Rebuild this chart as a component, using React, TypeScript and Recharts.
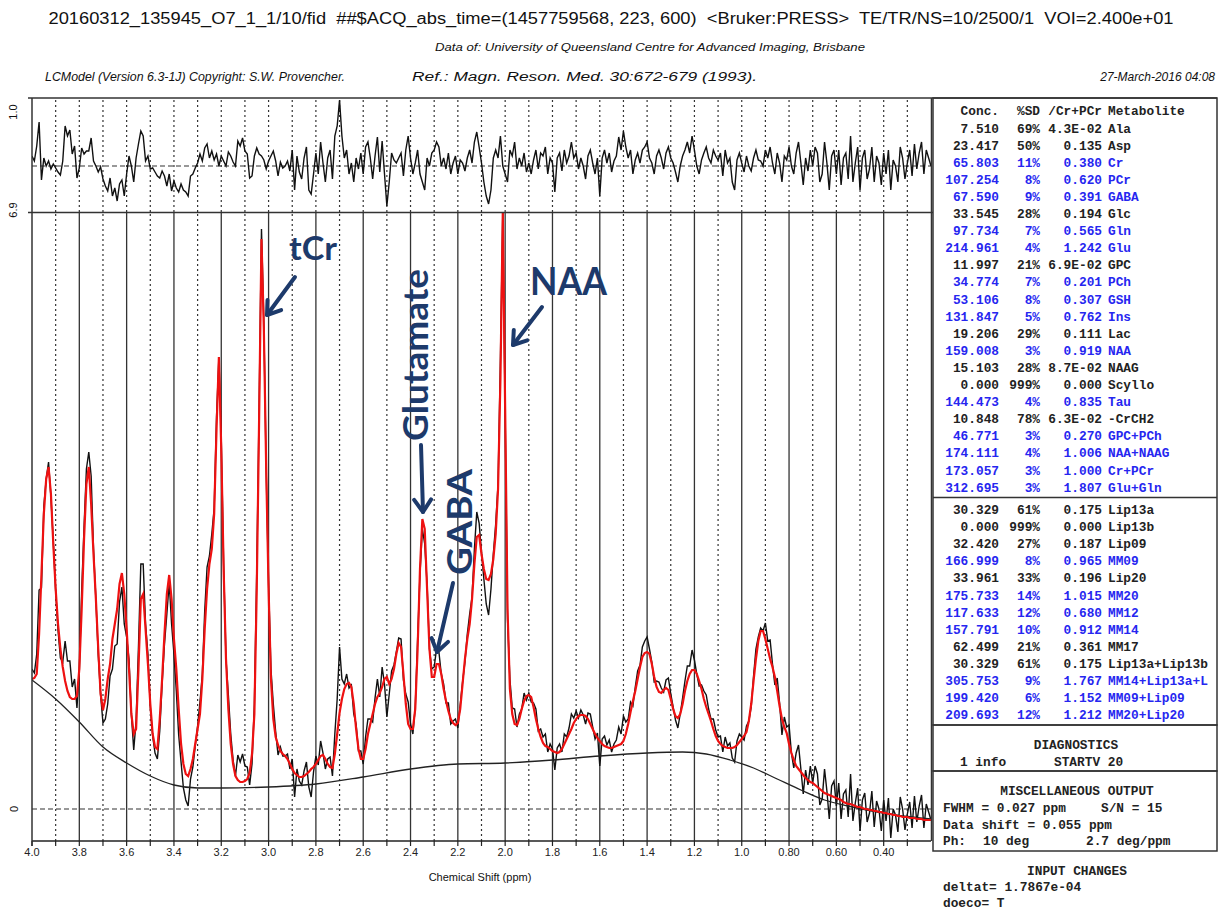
import React from 'react';
import { ComposedChart, Line, XAxis, YAxis, ReferenceLine } from 'recharts';

// spectrum sampled every 0.01 ppm, from 4.00 down to 0.20 ppm
const PPM_START = 4.0;
const PPM_STEP = 0.01;

// LCModel fit (red), one row per 0.01 ppm
const fitValues = [
  1.30, 1.31, 1.35, 1.75, 2.35, 2.95, 3.30, 3.42, 3.15, 2.65, // 4.00-3.91
  2.20, 1.85, 1.60, 1.42, 1.28, 1.18, 1.12, 1.10, 1.10, 1.13, // 3.90-3.81
  1.40, 2.00, 2.70, 3.25, 3.42, 3.05, 2.55, 2.10, 1.60, 1.15, // 3.80-3.71
  0.99, 1.10, 1.30, 1.45, 1.70, 1.85, 2.00, 2.25, 2.36, 2.15, // 3.70-3.61
  1.80, 1.40, 0.95, 0.75, 0.80, 1.40, 2.10, 2.15, 1.80, 1.45, // 3.60-3.51
  1.05, 0.75, 0.62, 0.60, 0.90, 1.30, 1.75, 2.15, 2.34, 2.10, // 3.50-3.41
  1.70, 1.40, 1.00, 0.65, 0.45, 0.35, 0.33, 0.40, 0.50, 0.65, // 3.40-3.31
  0.80, 0.95, 1.30, 1.80, 2.20, 2.45, 2.60, 2.95, 3.80, 4.52, // 3.30-3.21
  3.60, 2.40, 1.50, 1.00, 0.65, 0.45, 0.33, 0.29, 0.27, 0.27, // 3.20-3.11
  0.28, 0.30, 0.36, 0.55, 0.95, 2.20, 3.90, 5.70, 4.80, 3.40, // 3.10-3.01
  2.20, 1.30, 0.90, 0.72, 0.64, 0.58, 0.55, 0.53, 0.50, 0.45, // 3.00-2.91
  0.40, 0.36, 0.34, 0.32, 0.32, 0.33, 0.35, 0.37, 0.40, 0.42, // 2.90-2.81
  0.45, 0.49, 0.53, 0.54, 0.50, 0.45, 0.42, 0.41, 0.55, 0.75, // 2.80-2.71
  0.96, 1.10, 1.20, 1.25, 1.26, 1.22, 1.05, 0.80, 0.60, 0.50, // 2.70-2.61
  0.50, 0.60, 0.75, 0.85, 0.95, 1.05, 1.12, 1.16, 1.22, 1.30, // 2.60-2.51
  1.32, 1.25, 1.30, 1.40, 1.55, 1.66, 1.62, 1.35, 1.05, 0.85, // 2.50-2.41
  0.80, 0.80, 1.00, 1.60, 2.40, 2.90, 2.80, 2.20, 1.60, 1.32, // 2.40-2.31
  1.32, 1.45, 1.45, 1.35, 1.20, 1.08, 0.98, 0.90, 0.86, 0.84, // 2.30-2.21
  0.86, 1.00, 1.25, 1.50, 1.70, 1.85, 2.10, 2.45, 2.72, 2.74, // 2.20-2.11
  2.55, 2.40, 2.30, 2.29, 2.35, 2.50, 2.75, 3.20, 4.30, 5.96, // 2.10-2.01
  4.00, 2.00, 1.20, 0.95, 0.85, 0.84, 0.90, 1.00, 1.08, 1.13, // 2.00-1.91
  1.14, 1.12, 1.02, 0.90, 0.80, 0.72, 0.66, 0.63, 0.62, 0.60, // 1.90-1.81
  0.58, 0.57, 0.56, 0.57, 0.60, 0.65, 0.70, 0.75, 0.80, 0.86, // 1.80-1.71
  0.90, 0.93, 0.94, 0.94, 0.93, 0.90, 0.85, 0.80, 0.75, 0.71, // 1.70-1.61
  0.68, 0.65, 0.63, 0.62, 0.61, 0.61, 0.62, 0.63, 0.64, 0.65, // 1.60-1.51
  0.68, 0.75, 0.85, 0.97, 1.08, 1.18, 1.30, 1.42, 1.52, 1.56, // 1.50-1.41
  1.57, 1.55, 1.45, 1.32, 1.22, 1.17, 1.16, 1.19, 1.21, 1.19, // 1.40-1.31
  1.10, 1.00, 0.93, 0.91, 0.95, 1.05, 1.18, 1.28, 1.35, 1.39, // 1.30-1.21
  1.39, 1.35, 1.28, 1.20, 1.10, 1.02, 0.95, 0.88, 0.80, 0.73, // 1.20-1.11
  0.68, 0.65, 0.63, 0.62, 0.61, 0.61, 0.61, 0.62, 0.64, 0.67, // 1.10-1.01
  0.70, 0.73, 0.77, 0.88, 1.05, 1.28, 1.50, 1.68, 1.78, 1.78, // 1.00-0.91
  1.70, 1.60, 1.50, 1.42, 1.32, 1.18, 1.03, 0.90, 0.82, 0.76, // 0.90-0.81
  0.65, 0.56, 0.49, 0.43, 0.40, 0.37, 0.34, 0.31, 0.29, 0.27, // 0.80-0.71
  0.26, 0.24, 0.22, 0.20, 0.18, 0.16, 0.15, 0.14, 0.13, 0.12, // 0.70-0.61
  0.11, 0.10, 0.09, 0.07, 0.06, 0.05, 0.05, 0.04, 0.03, 0.02, // 0.60-0.51
  0.02, 0.01, 0.00, 0.00, -0.01, -0.01, -0.02, -0.02, -0.03, -0.03, // 0.50-0.41
  -0.04, -0.04, -0.05, -0.05, -0.06, -0.06, -0.07, -0.07, -0.08, -0.08, // 0.40-0.31
  -0.08, -0.09, -0.09, -0.09, -0.10, -0.10, -0.10, -0.11, -0.11, -0.11, // 0.30-0.21
  -0.11, // 0.20
];

// measured spectrum (black)
const dataValues = [
  1.40, 1.36, 1.55, 2.19, 2.21, 3.03, 3.30, 3.47, 3.12, 2.67,
  2.18, 1.79, 1.51, 1.47, 1.68, 1.48, 1.48, 1.22, 1.30, 1.01,
  1.38, 2.18, 2.82, 3.40, 3.57, 3.33, 2.60, 2.10, 1.54, 1.14,
  0.86, 0.90, 1.05, 1.33, 1.40, 1.63, 1.65, 2.07, 2.22, 1.85,
  1.72, 1.50, 0.95, 0.59, 0.88, 1.62, 2.45, 2.45, 1.85, 1.55,
  1.02, 0.73, 0.56, 0.50, 0.78, 1.25, 1.65, 1.95, 2.26, 1.85,
  1.55, 1.18, 0.74, 0.47, 0.21, 0.09, 0.03, 0.30, 0.42, 0.63,
  0.83, 1.07, 1.35, 1.98, 2.42, 2.53, 2.75, 3.01, 3.92, 4.52,
  3.70, 2.45, 1.50, 1.14, 0.75, 0.49, 0.33, 0.54, 0.47, 0.55,
  0.43, 0.42, 0.24, 0.45, 1.05, 2.38, 4.02, 5.80, 4.86, 3.37,
  2.25, 1.40, 1.05, 0.77, 0.54, 0.62, 0.53, 0.53, 0.55, 0.40,
  0.50, 0.12, 0.40, 0.28, 0.24, 0.38, 0.47, 0.22, 0.12, 0.37,
  0.53, 0.44, 0.68, 0.56, 0.40, 0.50, 0.52, 0.33, 0.75, 1.10,
  1.62, 1.30, 1.25, 1.35, 1.21, 1.24, 0.95, 0.85, 0.58, 0.58,
  0.45, 0.72, 0.90, 0.90, 0.87, 1.11, 1.30, 1.12, 1.42, 1.25,
  0.92, 1.15, 1.38, 1.44, 1.57, 1.71, 1.70, 1.29, 1.15, 1.07,
  0.85, 0.75, 1.02, 1.70, 2.35, 2.80, 2.65, 2.25, 1.60, 1.40,
  1.42, 1.60, 1.57, 1.35, 1.25, 1.06, 1.06, 0.85, 0.88, 0.90,
  0.81, 1.04, 1.27, 1.47, 1.75, 1.95, 2.12, 2.60, 2.97, 2.86,
  2.57, 2.30, 2.05, 1.94, 2.20, 2.55, 2.85, 3.25, 4.50, 5.96,
  3.95, 1.90, 1.30, 1.01, 1.00, 0.82, 0.95, 1.00, 1.16, 1.09,
  1.16, 1.07, 1.06, 1.00, 0.78, 0.80, 0.72, 0.75, 0.57, 0.65,
  0.60, 0.39, 0.61, 0.65, 0.57, 0.75, 0.72, 0.81, 0.95, 0.91,
  0.98, 0.91, 0.99, 0.94, 0.85, 0.96, 0.95, 0.82, 0.70, 0.76,
  0.43, 0.70, 0.73, 0.64, 0.69, 0.57, 0.65, 0.69, 0.82, 0.75,
  0.93, 0.87, 0.90, 1.07, 1.03, 1.22, 1.38, 1.44, 1.62, 1.68,
  1.72, 1.60, 1.47, 1.27, 1.28, 1.27, 1.21, 1.17, 1.29, 1.31,
  1.15, 1.02, 0.89, 0.81, 0.95, 1.11, 1.28, 1.43, 1.43, 1.59,
  1.49, 1.35, 1.23, 1.24, 1.18, 1.14, 1.00, 0.90, 0.90, 0.79,
  0.72, 0.73, 0.57, 0.72, 0.63, 0.66, 0.51, 0.47, 0.68, 0.75,
  0.72, 0.69, 0.83, 0.88, 1.02, 1.33, 1.60, 1.72, 1.81, 1.78,
  1.86, 1.68, 1.69, 1.45, 1.24, 1.31, 1.06, 0.74, 0.92, 0.82,
  0.84, 0.56, 0.41, 0.56, 0.64, 0.40, 0.15, 0.39, 0.24, 0.43,
  0.26, 0.43, 0.35, 0.04, 0.10, 0.40, 0.18, -0.10, 0.23, 0.28,
  0.03, 0.26, -0.10, 0.15, 0.19, -0.08, 0.35, -0.12, 0.06, 0.21,
  -0.22, 0.09, 0.16, -0.13, -0.04, 0.18, -0.18, 0.08, 0.00, -0.22,
  0.09, -0.12, 0.11, -0.29, 0.00, -0.06, -0.23, 0.12, 0.00, -0.21,
  -0.05, 0.07, -0.19, 0.13, -0.13, 0.03, 0.14, -0.19, 0.05, -0.03,
  -0.11,
];

// residual panel on top (data - fit)
const residualValues = [
  0.10, 0.05, 0.20, 0.44, -0.14, 0.08, 0.00, 0.05, -0.03, 0.02,
  -0.02, -0.06, -0.09, 0.05, 0.40, 0.30, 0.36, 0.12, 0.20, -0.12,
  -0.02, 0.18, 0.12, 0.15, 0.15, 0.28, 0.05, 0.00, -0.06, -0.01,
  -0.13, -0.20, -0.25, -0.12, -0.30, -0.22, -0.35, -0.18, -0.14, -0.30,
  -0.08, 0.10, 0.00, -0.16, 0.08, 0.22, 0.35, 0.30, 0.05, 0.10,
  -0.03, -0.02, -0.06, -0.10, -0.12, -0.05, -0.10, -0.20, -0.08, -0.25,
  -0.15, -0.22, -0.26, -0.18, -0.24, -0.26, -0.30, -0.10, -0.08, -0.02,
  0.03, 0.12, 0.05, 0.18, 0.22, 0.08, 0.15, 0.06, 0.12, 0.00,
  0.10, 0.05, 0.00, 0.14, 0.10, 0.04, 0.00, 0.25, 0.20, 0.28,
  0.15, 0.12, -0.12, -0.10, 0.10, 0.18, 0.12, 0.10, 0.06, -0.03,
  0.05, 0.10, 0.15, 0.05, -0.10, 0.04, -0.02, 0.00, 0.05, -0.05,
  0.16, -0.24, 0.10, -0.06, -0.13, 0.08, 0.19, -0.24, -0.28, -0.08,
  0.13, -0.08, 0.24, 0.03, -0.16, 0.08, 0.16, -0.13, 0.30, 0.40,
  0.66, 0.30, 0.08, 0.16, -0.08, 0.03, -0.16, 0.08, -0.03, 0.13,
  -0.08, 0.19, 0.24, 0.08, -0.13, 0.10, 0.29, -0.06, 0.25, -0.08,
  -0.40, -0.16, 0.13, 0.06, 0.03, 0.08, 0.13, -0.10, 0.16, 0.30,
  0.08, -0.08, 0.03, 0.16, -0.08, -0.16, -0.24, 0.08, 0.00, 0.13,
  0.16, 0.24, 0.19, 0.00, 0.08, -0.03, 0.13, -0.08, 0.03, 0.10,
  -0.08, 0.06, 0.03, -0.05, 0.08, 0.16, 0.03, 0.24, 0.34, 0.19,
  0.03, -0.16, -0.30, -0.38, -0.24, 0.08, 0.16, 0.08, 0.30, 0.00,
  -0.08, -0.16, 0.16, 0.10, 0.24, -0.03, 0.08, 0.00, 0.13, -0.06,
  0.03, -0.08, 0.06, 0.16, -0.03, 0.13, 0.10, 0.19, -0.08, 0.08,
  0.03, -0.26, 0.08, 0.13, -0.05, 0.16, 0.03, 0.10, 0.24, 0.08,
  0.13, -0.03, 0.08, 0.00, -0.13, 0.10, 0.16, 0.03, -0.08, 0.08,
  -0.30, 0.08, 0.16, 0.03, 0.13, -0.06, 0.05, 0.10, 0.29, 0.16,
  0.35, 0.19, 0.08, 0.16, -0.08, 0.06, 0.13, 0.03, 0.16, 0.19,
  0.24, 0.08, 0.03, -0.08, 0.10, 0.16, 0.08, -0.03, 0.13, 0.19,
  0.08, 0.03, -0.06, -0.16, 0.00, 0.10, 0.16, 0.24, 0.13, 0.30,
  0.16, 0.00, -0.08, 0.06, 0.13, 0.19, 0.08, 0.03, 0.16, 0.10,
  0.06, 0.13, -0.10, 0.16, 0.03, 0.08, -0.16, -0.24, 0.06, 0.13,
  0.03, -0.06, 0.10, 0.00, -0.05, 0.08, 0.16, 0.06, 0.05, 0.00,
  0.16, 0.08, 0.19, 0.03, -0.08, 0.13, 0.03, -0.16, 0.10, 0.06,
  0.19, 0.00, -0.08, 0.13, 0.24, 0.03, -0.19, 0.08, -0.05, 0.16,
  0.00, 0.19, 0.13, -0.16, -0.08, 0.24, 0.03, -0.24, 0.10, 0.16,
  -0.08, 0.16, -0.19, 0.08, 0.13, -0.13, 0.30, -0.16, 0.03, 0.19,
  -0.24, 0.08, 0.16, -0.13, -0.03, 0.19, -0.16, 0.10, 0.03, -0.19,
  0.13, -0.08, 0.16, -0.24, 0.06, 0.00, -0.16, 0.19, 0.08, -0.13,
  0.03, 0.16, -0.10, 0.22, -0.03, 0.13, 0.24, -0.08, 0.16, 0.08,
  0.00,
];

// smooth baseline (ppm, value)
const baselinePoints: [number, number][] = [
  [4.0, 1.29], [3.9, 1.1], [3.8, 0.87], [3.7, 0.62], [3.6, 0.46], [3.5, 0.33],
  [3.4, 0.24], [3.3, 0.21], [3.2, 0.21], [3.0, 0.22], [2.8, 0.25], [2.6, 0.32],
  [2.4, 0.4], [2.2, 0.45], [2.0, 0.46], [1.8, 0.49], [1.6, 0.53], [1.4, 0.56],
  [1.25, 0.57], [1.15, 0.55], [1.05, 0.49], [0.95, 0.41], [0.85, 0.3], [0.75, 0.19],
  [0.65, 0.09], [0.55, 0.03], [0.45, -0.02], [0.35, -0.06], [0.2, -0.1],
];

const majorTicks = [4.0, 3.8, 3.6, 3.4, 3.2, 3.0, 2.8, 2.6, 2.4, 2.2, 2.0, 1.8, 1.6, 1.4, 1.2, 1.0, 0.8, 0.6, 0.4];
const majorLabels = ['4.0', '3.8', '3.6', '3.4', '3.2', '3.0', '2.8', '2.6', '2.4', '2.2', '2.0', '1.8', '1.6', '1.4', '1.2', '1.0', '0.80', '0.60', '0.40'];
const minorTicks = [3.9, 3.7, 3.5, 3.3, 3.1, 2.9, 2.7, 2.5, 2.3, 2.1, 1.9, 1.7, 1.5, 1.3, 1.1, 0.9, 0.7, 0.5, 0.3];

// concentration table: conc, %SD, /Cr+PCr, metabolite
const metabolites: [string, string, string, string][] = [
  ['7.510', '69%', '4.3E-02', 'Ala'],
  ['23.417', '50%', '0.135', 'Asp'],
  ['65.803', '11%', '0.380', 'Cr'],
  ['107.254', '8%', '0.620', 'PCr'],
  ['67.590', '9%', '0.391', 'GABA'],
  ['33.545', '28%', '0.194', 'Glc'],
  ['97.734', '7%', '0.565', 'Gln'],
  ['214.961', '4%', '1.242', 'Glu'],
  ['11.997', '21%', '6.9E-02', 'GPC'],
  ['34.774', '7%', '0.201', 'PCh'],
  ['53.106', '8%', '0.307', 'GSH'],
  ['131.847', '5%', '0.762', 'Ins'],
  ['19.206', '29%', '0.111', 'Lac'],
  ['159.008', '3%', '0.919', 'NAA'],
  ['15.103', '28%', '8.7E-02', 'NAAG'],
  ['0.000', '999%', '0.000', 'Scyllo'],
  ['144.473', '4%', '0.835', 'Tau'],
  ['10.848', '78%', '6.3E-02', '-CrCH2'],
  ['46.771', '3%', '0.270', 'GPC+PCh'],
  ['174.111', '4%', '1.006', 'NAA+NAAG'],
  ['173.057', '3%', '1.000', 'Cr+PCr'],
  ['312.695', '3%', '1.807', 'Glu+Gln'],
];

const lipids: [string, string, string, string][] = [
  ['30.329', '61%', '0.175', 'Lip13a'],
  ['0.000', '999%', '0.000', 'Lip13b'],
  ['32.420', '27%', '0.187', 'Lip09'],
  ['166.999', '8%', '0.965', 'MM09'],
  ['33.961', '33%', '0.196', 'Lip20'],
  ['175.733', '14%', '1.015', 'MM20'],
  ['117.633', '12%', '0.680', 'MM12'],
  ['157.791', '10%', '0.912', 'MM14'],
  ['62.499', '21%', '0.361', 'MM17'],
  ['30.329', '61%', '0.175', 'Lip13a+Lip13b'],
  ['305.753', '9%', '1.767', 'MM14+Lip13a+L'],
  ['199.420', '6%', '1.152', 'MM09+Lip09'],
  ['209.693', '12%', '1.212', 'MM20+Lip20'],
];

const ppmAt = (i: number) => Math.round((PPM_START - i * PPM_STEP) * 100) / 100;
const spectrumRows = fitValues.map((fit, i) => ({ ppm: ppmAt(i), fit, data: dataValues[i] }));
const residualRows = residualValues.map((res, i) => ({ ppm: ppmAt(i), res }));
const baselineRows = baselinePoints.map(([ppm, base]) => ({ ppm, base }));
const allTicks = [...majorTicks, ...minorTicks].sort((a, b) => b - a);

const tickText = (v: number) => {
  const i = majorTicks.findIndex((m) => Math.abs(m - v) < 1e-6);
  return i >= 0 ? majorLabels[i] : '';
};

const NAVY = '#1d3a6b';
const BLUE = '#2626f0';
const MONO = '"Liberation Mono", "DejaVu Sans Mono", monospace';
const SANS = '"Liberation Sans", Arial, sans-serif';

function Arrow({ x1, y1, x2, y2 }: { x1: number; y1: number; x2: number; y2: number }) {
  const a = Math.atan2(y2 - y1, x2 - x1);
  const L = 15;
  const s = 0.6;
  const p1 = [x2 - L * Math.cos(a - s), y2 - L * Math.sin(a - s)];
  const p2 = [x2 - L * Math.cos(a + s), y2 - L * Math.sin(a + s)];
  return (
    <g stroke={NAVY} strokeWidth={4} strokeLinecap="round" strokeLinejoin="round" fill="none">
      <line x1={x1} y1={y1} x2={x2} y2={y2} />
      <polyline points={`${p1[0]},${p1[1]} ${x2},${y2} ${p2[0]},${p2[1]}`} />
    </g>
  );
}

function TableRows({ rows, y0 }: { rows: [string, string, string, string][]; y0: number }) {
  return (
    <g fontFamily={MONO} fontSize={12.8} fontWeight="bold">
      {rows.map(([c, sd, r, name], i) => {
        const y = y0 + i * 17.1;
        const fill = parseInt(sd, 10) < 20 ? BLUE : '#222';
        return (
          <g key={name + i} fill={fill}>
            <text x={999} y={y} textAnchor="end">{c}</text>
            <text x={1040} y={y} textAnchor="end">{sd}</text>
            <text x={1102} y={y} textAnchor="end">{r}</text>
            <text x={1108} y={y}>{name}</text>
          </g>
        );
      })}
    </g>
  );
}

export default function App() {
  return (
    <div style={{ position: 'absolute', left: 0, top: 0, width: 1219, height: 910, background: '#fff', overflow: 'hidden' }}>
      {/* residual panel */}
      <div style={{ position: 'absolute', left: 0, top: 90 }}>
        <ComposedChart width={940} height={130} data={residualRows} margin={{ top: 8, right: 9, bottom: 8, left: 32 }}>
          <XAxis hide type="number" dataKey="ppm" domain={[0.2, 4.0]} reversed allowDataOverflow />
          <YAxis hide type="number" domain={[-0.46, 0.68]} allowDataOverflow />
          {[...majorTicks.slice(1), ...minorTicks].map((v) => (
            <ReferenceLine key={'r' + v} x={v} stroke="#333" strokeWidth={1.2} strokeDasharray="2 3" />
          ))}
          <ReferenceLine y={0} stroke="#333" strokeWidth={1.2} strokeDasharray="5 3" />
          <Line type="linear" dataKey="res" stroke="#111" strokeWidth={1.4} dot={false} isAnimationActive={false} />
        </ComposedChart>
      </div>

      {/* spectrum panel */}
      <div style={{ position: 'absolute', left: 0, top: 200 }}>
        <ComposedChart width={940} height={690} data={spectrumRows} margin={{ top: 13, right: 9, bottom: 19, left: 32 }}>
          <XAxis
            type="number"
            dataKey="ppm"
            domain={[0.2, 4.0]}
            reversed
            allowDataOverflow
            ticks={allTicks}
            interval={0}
            tickFormatter={tickText}
            tickSize={5}
            height={30}
            axisLine={{ stroke: '#222', strokeWidth: 1.5 }}
            tickLine={{ stroke: '#222', strokeWidth: 1.2 }}
            tick={{ fontSize: 11, fill: '#222', fontFamily: SANS }}
          />
          <YAxis hide type="number" domain={[-0.32, 5.96]} allowDataOverflow />
          {minorTicks.map((v) => (
            <ReferenceLine key={'m' + v} x={v} stroke="#333" strokeWidth={1.2} strokeDasharray="2 3" />
          ))}
          {majorTicks.slice(1).map((v) => (
            <ReferenceLine key={'M' + v} x={v} stroke="#333" strokeWidth={1.3} />
          ))}
          <ReferenceLine y={0} stroke="#333" strokeWidth={1.2} strokeDasharray="5 3" />
          <Line type="linear" dataKey="data" stroke="#111" strokeWidth={1.4} dot={false} isAnimationActive={false} />
          <Line data={baselineRows} type="monotone" dataKey="base" stroke="#222" strokeWidth={1.3} dot={false} isAnimationActive={false} />
          <Line type="linear" dataKey="fit" stroke="#ee1111" strokeWidth={2.2} dot={false} isAnimationActive={false} />
        </ComposedChart>
      </div>

      {/* frames, texts and annotations */}
      <svg width={1219} height={910} style={{ position: 'absolute', left: 0, top: 0, pointerEvents: 'none' }}>
        <g fontFamily={SANS} fill="#111">
          <text x={611} y={24} textAnchor="middle" fontSize={16} textLength={1125} lengthAdjust="spacingAndGlyphs" style={{ whiteSpace: 'pre' }}>
            {'20160312_135945_O7_1_1/10/fid  ##$ACQ_abs_time=(1457759568, 223, 600)  <Bruker:PRESS>  TE/TR/NS=10/2500/1  VOI=2.400e+01'}
          </text>
          <text x={650} y={51} textAnchor="middle" fontSize={11.5} fontStyle="italic" textLength={430} lengthAdjust="spacingAndGlyphs">
            Data of: University of Queensland Centre for Advanced Imaging, Brisbane
          </text>
          <text x={45} y={81} fontSize={12} fontStyle="italic" textLength={300} lengthAdjust="spacingAndGlyphs">
            LCModel (Version 6.3-1J) Copyright: S.W. Provencher.
          </text>
          <text x={412} y={81} fontSize={12} fontStyle="italic" textLength={345} lengthAdjust="spacingAndGlyphs">
            Ref.: Magn. Reson. Med. 30:672-679 (1993).
          </text>
          <text x={1215} y={81} textAnchor="end" fontSize={12} fontStyle="italic">27-March-2016  04:08</text>
          <text x={480} y={881} textAnchor="middle" fontSize={11}>Chemical Shift (ppm)</text>
          <text transform="translate(17,112) rotate(-90)" textAnchor="middle" fontSize={11}>1.0</text>
          <text transform="translate(17,210) rotate(-90)" textAnchor="middle" fontSize={11}>6.9</text>
          <text transform="translate(18,809) rotate(-90)" textAnchor="middle" fontSize={11}>0</text>
        </g>

        {/* plot frame */}
        <g stroke="#333" strokeWidth={1.5} fill="none">
          <line x1={28} y1={98} x2={1217} y2={98} />
          <line x1={28} y1={212.5} x2={933} y2={212.5} />
          <line x1={32} y1={98} x2={32} y2={846} />
          <line x1={931.5} y1={98} x2={931.5} y2={841} />
          <rect x={933} y={98} width={284} height={627} />
          <line x1={933} y1={497.5} x2={1217} y2={497.5} />
          <rect x={933} y={725} width={284} height={46} />
          <rect x={933} y={771} width={284} height={80} />
        </g>

        {/* concentration table */}
        <g fontFamily={MONO} fontSize={12.8} fontWeight="bold" fill="#222">
          <text x={999} y={115} textAnchor="end">Conc.</text>
          <text x={1040} y={115} textAnchor="end">%SD</text>
          <text x={1102} y={115} textAnchor="end">/Cr+PCr</text>
          <text x={1108} y={115}>Metabolite</text>
        </g>
        <TableRows rows={metabolites} y0={132.5} />
        <TableRows rows={lipids} y0={514} />

        <g fontFamily={MONO} fontSize={12.8} fontWeight="bold" fill="#222">
          <text x={1076} y={749} textAnchor="middle">DIAGNOSTICS</text>
          <text x={960} y={766}>1 info</text>
          <text x={1054} y={766}>STARTV 20</text>
          <text x={1077} y={795} textAnchor="middle">MISCELLANEOUS OUTPUT</text>
          <text x={943} y={812}>FWHM = 0.027 ppm</text>
          <text x={1101} y={812}>S/N =  15</text>
          <text x={943} y={829}>Data shift = 0.055 ppm</text>
          <text x={943} y={845}>Ph:</text>
          <text x={983} y={845}>10 deg</text>
          <text x={1086} y={845}>2.7 deg/ppm</text>
          <text x={1077} y={875} textAnchor="middle">INPUT CHANGES</text>
          <text x={943} y={891}>deltat= 1.7867e-04</text>
          <text x={943} y={907}>doeco= T</text>
        </g>

        {/* annotations */}
        <g fontFamily='Lato, "Open Sans", sans-serif' fontWeight="bold" fill={NAVY}>
          <text x={289} y={260} fontSize={32} textLength={48} lengthAdjust="spacingAndGlyphs">tCr</text>
          <text x={530} y={295} fontSize={38} textLength={77} lengthAdjust="spacingAndGlyphs">NAA</text>
          <text transform="translate(428,355) rotate(-90)" textAnchor="middle" fontSize={34} textLength={172} lengthAdjust="spacingAndGlyphs">Glutamate</text>
          <text transform="translate(472,522) rotate(-90)" textAnchor="middle" fontSize={34} textLength={106} lengthAdjust="spacingAndGlyphs">GABA</text>
        </g>
        <Arrow x1={295} y1={277} x2={267} y2={315} />
        <Arrow x1={542} y1={307} x2={513} y2={345} />
        <Arrow x1={421} y1={445} x2={423} y2={512} />
        <Arrow x1={453} y1={583} x2={437} y2={652} />
      </svg>
    </div>
  );
}
